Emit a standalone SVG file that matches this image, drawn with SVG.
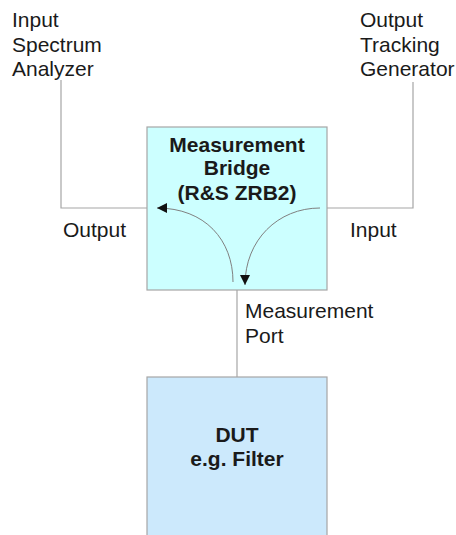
<svg xmlns="http://www.w3.org/2000/svg" width="456" height="535" viewBox="0 0 456 535">
<style>
text{font-family:"Liberation Sans",Arial,sans-serif;font-size:21px;fill:#1a1a1a}
.b{font-weight:bold;text-anchor:middle}
.ln{fill:none;stroke:#a6a6a6;stroke-width:1.2}
.cv{fill:none;stroke:#808080;stroke-width:1}
</style>
<defs>
<marker id="ah" viewBox="0 0 10 10" refX="10" refY="5" markerWidth="10" markerHeight="10" markerUnits="userSpaceOnUse" orient="auto">
<path d="M0,0 L10,5 L0,10 Z" fill="#111"/>
</marker>
</defs>
<rect width="456" height="535" fill="#fff"/>
<g id="connectors">
<polyline class="ln" points="61,80 61,208 147,208"/>
<polyline class="ln" points="413,82 413,208 327,208"/>
<line class="ln" x1="237" y1="290" x2="237" y2="377"/>
</g>
<g id="sa">
<text x="12" y="27">Input</text>
<text x="12" y="52">Spectrum</text>
<text x="12" y="76">Analyzer</text>
</g>
<g id="tg">
<text x="360" y="27">Output</text>
<text x="360" y="52">Tracking</text>
<text x="360" y="76">Generator</text>
</g>
<g id="bridge">
<rect x="147" y="127" width="180" height="163" fill="#ccffff" stroke="#a6a6a6" stroke-width="1.2"/>
<text class="b" x="237" y="152">Measurement</text>
<text class="b" x="237" y="175">Bridge</text>
<text class="b" x="237" y="200">(R&amp;S ZRB2)</text>
<path class="cv" d="M233,282 C233,240 205,208 157,208" marker-end="url(#ah)"/>
<path class="cv" d="M320,208 C278,208 245,240 245,285" marker-end="url(#ah)"/>
</g>
<g id="labels">
<text x="63" y="237">Output</text>
<text x="350" y="237">Input</text>
<text x="245" y="318">Measurement</text>
<text x="245" y="343">Port</text>
</g>
<g id="dut">
<rect x="147" y="377" width="180" height="170" fill="#cce9fc" stroke="#a6a6a6" stroke-width="1.2"/>
<text class="b" x="237" y="442">DUT</text>
<text class="b" x="237" y="466">e.g. Filter</text>
</g>
</svg>
